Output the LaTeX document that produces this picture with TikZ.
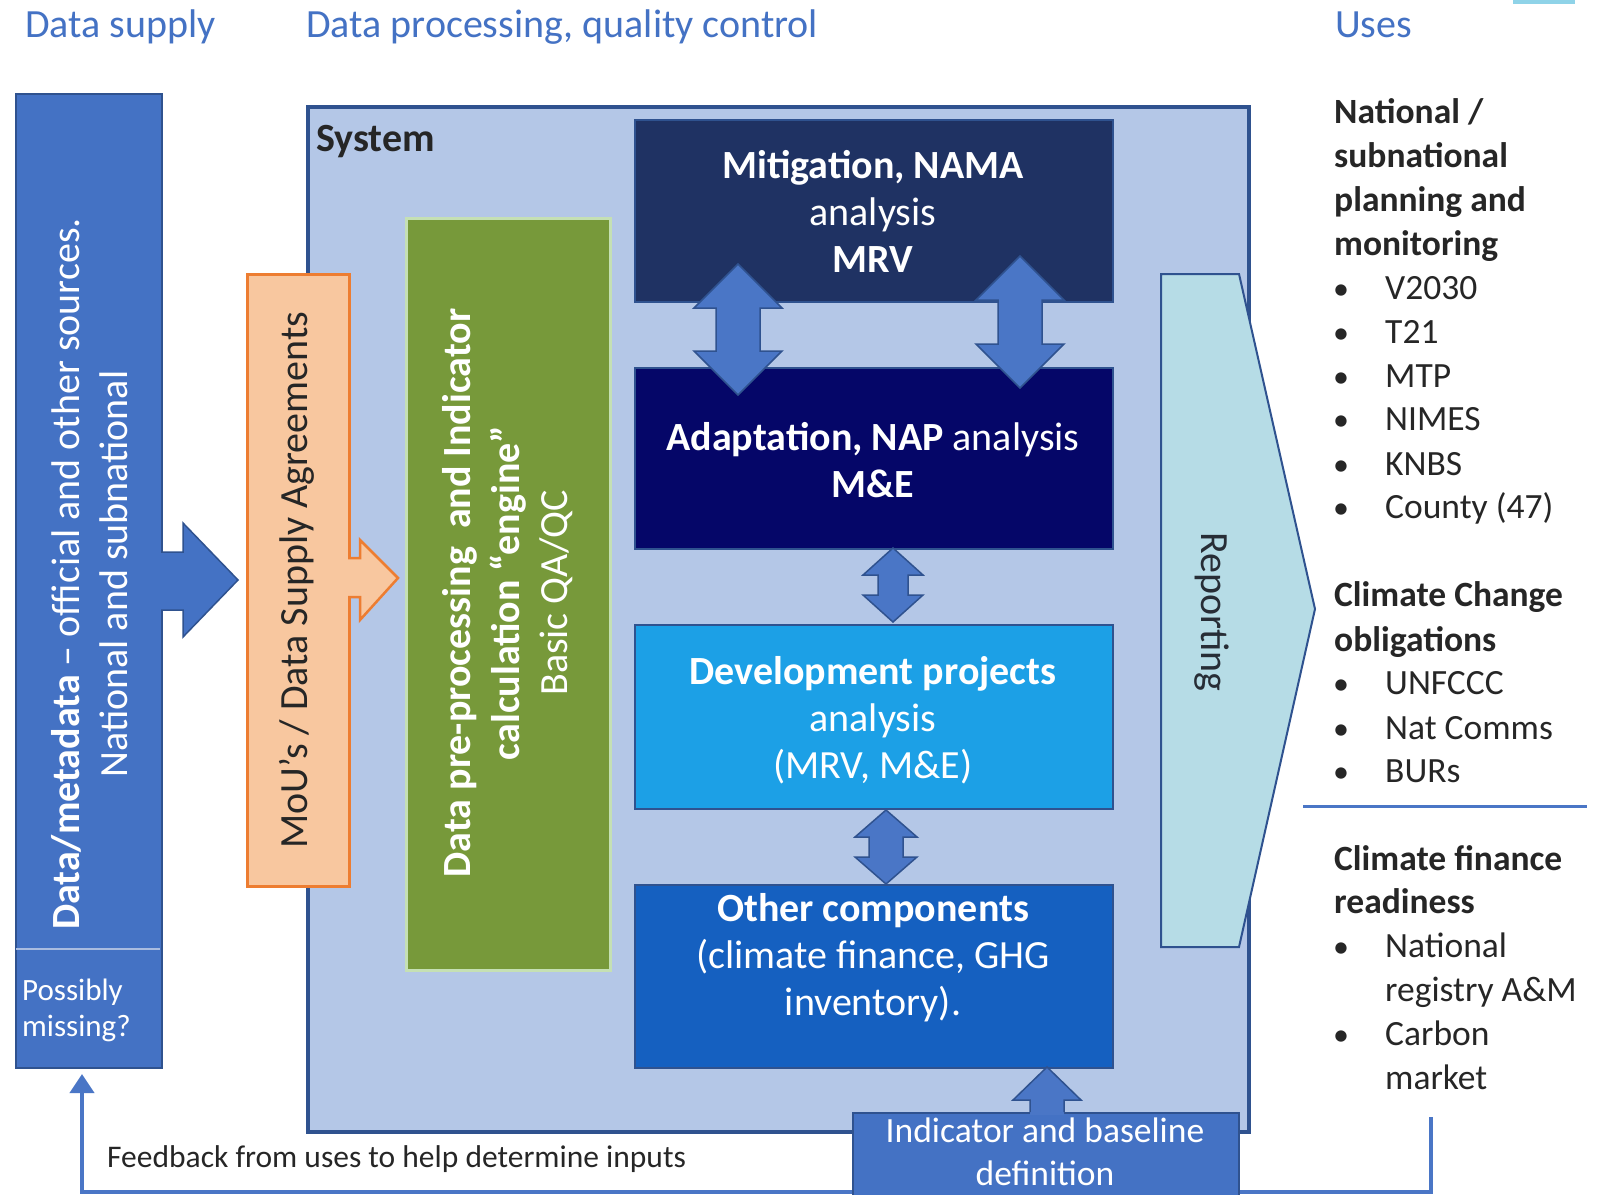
\documentclass[tikz,border=0pt]{standalone}
\usepackage{fontspec}
\setmainfont{Carlito}
\usetikzlibrary{arrows.meta,calc}
\definecolor{hdrblue}{HTML}{4472C4}
\definecolor{colblue}{HTML}{4472C4}
\definecolor{arrblue}{HTML}{4A76C6}
\definecolor{bordblue}{HTML}{2F528F}
\definecolor{sysfill}{HTML}{B4C7E7}
\definecolor{mitig}{HTML}{1F3263}
\definecolor{adapt}{HTML}{050668}
\definecolor{devel}{HTML}{1CA0E6}
\definecolor{other}{HTML}{1560C0}
\definecolor{orfill}{HTML}{F8C79F}
\definecolor{orbord}{HTML}{ED7D31}
\definecolor{grfill}{HTML}{77993A}
\definecolor{grbord}{HTML}{C5E0B4}
\definecolor{repfill}{HTML}{B6DCE6}
\definecolor{txtdark}{HTML}{262626}
\definecolor{divline}{HTML}{A9BCE0}
\definecolor{cyanbit}{HTML}{8FD3E8}
\newcommand\vdarr[6]{\draw[blockarrow] (#1,#2) -- ({#1+#4},{#2+#6}) -- ({#1+#5},{#2+#6}) -- ({#1+#5},{#3-#6}) -- ({#1+#4},{#3-#6}) -- (#1,#3) -- ({#1-#4},{#3-#6}) -- ({#1-#5},{#3-#6}) -- ({#1-#5},{#2+#6}) -- ({#1-#4},{#2+#6}) -- cycle;}
\begin{document}
\begin{tikzpicture}[x=1pt,y=-1pt,
  rbox/.style={draw, inner sep=0pt, anchor=north west},
  hdr/.style={anchor=base west, inner sep=0pt, text=hdrblue, font=\fontsize{40}{48}\selectfont},
  wtxt/.style={text=white, align=center, inner sep=0pt, font=\fontsize{40}{47}\selectfont},
  ut/.style={anchor=base west, inner sep=0pt, text=txtdark, font=\fontsize{35.5}{43}\selectfont},
  uh/.style={ut, font=\bfseries\fontsize{35.5}{43}\selectfont},
  bul/.style={anchor=base, inner sep=0pt, text=txtdark, font=\fontsize{32}{43}\selectfont},
  blockarrow/.style={fill=arrblue, draw=bordblue, line width=1.5pt, line join=miter},
  fbline/.style={draw=arrblue, line width=4pt, -{Triangle[width=24pt,length=19pt]}},
]
\useasboundingbox (0,0) rectangle (1600,1194);
\fill[white] (0,0) rectangle (1600,1194);
\fill[cyanbit] (1513,0) rectangle (1575,4);

% headers
\node[hdr] (h1) at (25,37) {Data supply};
\node[hdr] (h2) at (306,37) {Data processing, quality control};
\node[hdr] (h3) at (1335,37) {Uses};

% left data column
\node[rbox, fill=colblue, draw=bordblue, line width=2pt, minimum width=146pt, minimum height=974pt] (col) at (15,93) {};
\coordinate (dl) at (16,949);
\coordinate (dr) at (160,949);
\draw[divline, line width=1.5pt] (dl) -- (dr);
\node[rotate=90, align=center, inner sep=0pt, text=white, font=\fontsize{40}{48}\selectfont] (coltxt) at (90,574) {\textbf{Data/metadata} – official and other sources.\\National and subnational};
\node[anchor=west, align=left, inner sep=0pt, text=white, font=\fontsize{31}{36}\selectfont] (miss) at (22,1010) {Possibly\\missing?};

% system box
\node[rbox, fill=sysfill, draw=bordblue, line width=3.5pt, minimum width=941pt, minimum height=1025pt] (sys) at (306,105) {};
\node[anchor=base west, inner sep=0pt, text=txtdark, font=\bfseries\fontsize{40}{48}\selectfont] (syslbl) at (316,151) {System};

% blue arrow data -> MoU
\fill[colblue] (157,552) -- (183,552) -- (183,523) -- (238,580) -- (183,637) -- (183,610) -- (157,610) -- cycle;
\draw[bordblue, line width=1.5pt, line join=miter] (161,552) -- (183,552) -- (183,523) -- (238,580) -- (183,637) -- (183,610) -- (161,610);

% MoU box
\node[rbox, fill=orfill, draw=orbord, line width=2.5pt, minimum width=102pt, minimum height=612pt] (mou) at (246,273) {};
\fill[orfill] (345,558) -- (360,558) -- (360,540) -- (398,578) -- (360,620) -- (360,597) -- (345,597) -- cycle;
\draw[orbord, line width=2.5pt, line join=miter] (348,558) -- (360,558) -- (360,540) -- (398,578) -- (360,620) -- (360,597) -- (348,597);
\node[rotate=90, inner sep=0pt, text=txtdark, font=\fontsize{40}{48}\selectfont] (moutxt) at (297,580) {MoU’s / Data Supply Agreements};

% engine box
\node[rbox, fill=grfill, draw=grbord, line width=3pt, minimum width=204pt, minimum height=752pt] (eng) at (405,217) {};
\node[wtxt, rotate=90, font=\fontsize{40}{48.5}\selectfont] (engtxt) at (508,593) {\textbf{Data pre-processing \ and Indicator}\\\textbf{calculation “engine”}\\Basic QA/QC};

% analysis boxes
\node[rbox, fill=mitig, draw=bordblue, line width=1.5pt, minimum width=478pt, minimum height=182pt] (mit) at (634,119) {};
\node[rbox, fill=adapt, draw=bordblue, line width=1.5pt, minimum width=478pt, minimum height=181pt] (ada) at (634,367) {};
\node[rbox, fill=devel, draw=bordblue, line width=1.5pt, minimum width=478pt, minimum height=184pt] (dev) at (634,624) {};
\node[rbox, fill=other, draw=bordblue, line width=1.5pt, minimum width=478pt, minimum height=183pt] (oth) at (634,884) {};

\node[wtxt] (mittxt) at (873,211) {\textbf{Mitigation, NAMA}\\analysis\\\textbf{MRV}};
\node[wtxt] (adatxt) at (873,460) {\textbf{Adaptation, NAP} analysis\\\textbf{M\&E}};
\node[wtxt] (devtxt) at (873,720) {\textbf{Development projects}\\analysis\\(MRV, M\&E)};
\node[wtxt] (othtxt) at (873,958) {\textbf{Other components}\\(climate finance, GHG\\inventory).};

% double arrows
\vdarr{738}{264}{395}{44}{22}{44}
\vdarr{1020}{256}{388}{44}{22}{44}
\vdarr{893}{548}{622}{30}{15}{27}
\vdarr{886}{810}{884}{31}{17}{27}

% reporting
\draw[fill=repfill, draw=bordblue, line width=2pt, line join=miter] (1161,274) -- (1239,274) -- (1315,609) -- (1239,947) -- (1161,947) -- cycle;
\node[rotate=-90, inner sep=0pt, text=txtdark!85!bordblue, font=\fontsize{40}{48}\selectfont] (rep) at (1212,612) {Reporting};

% uses column
\node[uh] (u1) at (1334,123) {National /};
\node[uh] (u2) at (1334,167) {subnational};
\node[uh] (u3) at (1334,211) {planning and};
\node[uh] (u4) at (1334,255) {monitoring};
\foreach \yy/\txt [count=\k] in {299/V2030, 343/T21, 387/MTP, 430/NIMES, 475/KNBS, 518/County (47)}{
  \node[bul] (ba\k) at (1341,\yy) {•};
  \node[ut] (ia\k) at (1385,\yy) {\txt};
}
\node[uh] (c1) at (1334,606) {Climate Change};
\node[uh] (c2) at (1334,651) {obligations};
\foreach \yy/\txt [count=\k] in {694/UNFCCC, 739/Nat Comms, 782/BURs}{
  \node[bul] (bb\k) at (1341,\yy) {•};
  \node[ut] (ib\k) at (1385,\yy) {\txt};
}
\coordinate (sepl) at (1303,806);
\coordinate (sepr) at (1587,806);
\draw[arrblue, line width=3pt] (sepl) -- (sepr);
\node[uh] (f1) at (1334,870) {Climate finance};
\node[uh] (f2) at (1334,913) {readiness};
\node[bul] (bc1) at (1341,957) {•};
\node[ut] (ic1) at (1385,957) {National};
\node[ut] (ic2) at (1385,1001) {registry A\&M};
\node[bul] (bc2) at (1341,1045) {•};
\node[ut] (ic3) at (1385,1045) {Carbon};
\node[ut] (ic4) at (1385,1089) {market};

% feedback connector
\coordinate (fbstart) at (1431,1117);
\coordinate (fbend) at (82,1074);
\draw[fbline] (fbstart) |- ([yshift=-118pt]fbend) -- (fbend);
\node[anchor=base west, inner sep=0pt, text=txtdark, font=\fontsize{31.5}{38}\selectfont] (fbtxt) at (107,1167) {Feedback from uses to help determine inputs};

% indicator box and up arrow
\node[rbox, fill=colblue, draw=bordblue, line width=2pt, minimum width=386pt, minimum height=100pt] (ind) at (852,1112) {};
\fill[arrblue] (1030,1115) -- (1030,1100) -- (1013,1100) -- (1047,1067) -- (1081,1100) -- (1064,1100) -- (1064,1115) -- cycle;
\draw[bordblue, line width=1.5pt, line join=miter] (1030,1112) -- (1030,1100) -- (1013,1100) -- (1047,1067) -- (1081,1100) -- (1064,1100) -- (1064,1112);
\node[wtxt, font=\fontsize{35.5}{43}\selectfont] (indtxt) at (1045,1152) {Indicator and baseline\\definition};
\end{tikzpicture}
\end{document}
